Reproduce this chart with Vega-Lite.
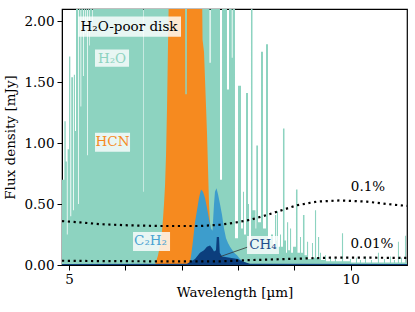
{
  "$schema": "https://vega.github.io/schema/vega-lite/v6.json",
  "width": 345,
  "height": 256,
  "autosize": {"type": "none"},
  "padding": {"left": 62, "top": 9, "right": 8, "bottom": 47},
  "background": "white",
  "config": {
    "view": {"stroke": "black", "strokeWidth": 1.2},
    "font": "DejaVu Serif",
    "axis": {
      "labelFont": "DejaVu Serif", "titleFont": "DejaVu Serif",
      "labelFontSize": 13.5, "titleFontSize": 13.5, "titleFontWeight": "normal",
      "labelColor": "black", "titleColor": "black", "tickColor": "black", "domainColor": "black",
      "grid": false, "tickSize": 5, "labelPadding": 3, "labelOverlap": false
    }
  },
  "datasets": {
    "h2o": [
      {"wl":4.875,"flux":0.70},{"wl":4.917,"flux":1.18},{"wl":4.941,"flux":0.85},{"wl":4.961,"flux":0.25},
      {"wl":4.975,"flux":0.95},{"wl":5.000,"flux":1.71},{"wl":5.023,"flux":0.40},{"wl":5.039,"flux":1.54},
      {"wl":5.071,"flux":0.45},{"wl":5.085,"flux":1.56},{"wl":5.106,"flux":1.10},{"wl":5.124,"flux":2.5},
      {"wl":5.160,"flux":0.50},{"wl":5.174,"flux":2.5},{"wl":5.204,"flux":1.30},{"wl":5.217,"flux":2.5},
      {"wl":5.248,"flux":1.55},{"wl":5.261,"flux":2.5},{"wl":5.289,"flux":1.90},{"wl":5.302,"flux":2.5},
      {"wl":5.319,"flux":0.90},{"wl":5.332,"flux":2.5},{"wl":5.355,"flux":1.80},{"wl":5.366,"flux":2.5},
      {"wl":5.408,"flux":2.00},{"wl":5.419,"flux":2.5},{"wl":6.313,"flux":0.60},{"wl":6.322,"flux":2.5},
      {"wl":7.494,"flux":1.66},{"wl":7.515,"flux":2.5},{"wl":7.680,"flux":0.70},{"wl":7.716,"flux":2.5},
      {"wl":7.804,"flux":1.44},{"wl":7.840,"flux":2.5},{"wl":7.889,"flux":1.70},{"wl":7.904,"flux":2.5},
      {"wl":7.946,"flux":0.22},{"wl":8.000,"flux":1.47},{"wl":8.053,"flux":0.30},{"wl":8.088,"flux":0.60},
      {"wl":8.106,"flux":0.25},{"wl":8.142,"flux":1.41},{"wl":8.177,"flux":0.50},{"wl":8.195,"flux":0.20},
      {"wl":8.230,"flux":2.5},{"wl":8.257,"flux":0.45},{"wl":8.310,"flux":0.30},{"wl":8.324,"flux":0.98},
      {"wl":8.355,"flux":0.35},{"wl":8.408,"flux":1.75},{"wl":8.443,"flux":0.30},{"wl":8.497,"flux":1.81},
      {"wl":8.532,"flux":0.20},{"wl":8.585,"flux":0.25},{"wl":8.621,"flux":0.15},{"wl":8.656,"flux":0.41},
      {"wl":8.678,"flux":0.20},{"wl":8.692,"flux":0.44},{"wl":8.710,"flux":0.15},{"wl":8.745,"flux":0.25},
      {"wl":8.763,"flux":0.15},{"wl":8.798,"flux":1.12},{"wl":8.825,"flux":0.20},{"wl":8.852,"flux":0.10},
      {"wl":8.870,"flux":0.35},{"wl":8.890,"flux":0.12},{"wl":8.923,"flux":0.30},{"wl":8.942,"flux":0.10},
      {"wl":8.976,"flux":0.15},{"wl":9.029,"flux":0.62},{"wl":9.056,"flux":0.10},{"wl":9.100,"flux":0.23},
      {"wl":9.118,"flux":0.10},{"wl":9.153,"flux":0.41},{"wl":9.180,"flux":0.08},{"wl":9.224,"flux":0.19},
      {"wl":9.244,"flux":0.05},{"wl":9.313,"flux":0.18},{"wl":9.331,"flux":0.06},{"wl":9.366,"flux":0.45},
      {"wl":9.386,"flux":0.06},{"wl":9.420,"flux":0.23},{"wl":9.440,"flux":0.05},{"wl":9.455,"flux":0.10},
      {"wl":9.473,"flux":0.04},{"wl":9.544,"flux":0.08},{"wl":9.562,"flux":0.03},
      {"wl":9.633,"flux":0.06},{"wl":9.650,"flux":0.03},{"wl":9.721,"flux":0.05},{"wl":9.739,"flux":0.03},
      {"wl":9.845,"flux":0.26},{"wl":9.865,"flux":0.03},
      {"wl":9.987,"flux":0.05},{"wl":10.005,"flux":0.02},{"wl":10.094,"flux":0.06},{"wl":10.112,"flux":0.02},
      {"wl":10.165,"flux":0.04},{"wl":10.183,"flux":0.02},{"wl":10.254,"flux":0.07},{"wl":10.271,"flux":0.02},
      {"wl":10.360,"flux":0.04},{"wl":10.378,"flux":0.02},{"wl":10.484,"flux":0.10},{"wl":10.502,"flux":0.02},
      {"wl":10.591,"flux":0.05},{"wl":10.609,"flux":0.02},{"wl":10.697,"flux":0.07},{"wl":10.715,"flux":0.02},
      {"wl":10.768,"flux":0.04},{"wl":10.786,"flux":0.02},{"wl":10.839,"flux":0.19},{"wl":10.857,"flux":0.02},
      {"wl":10.893,"flux":0.06},{"wl":10.910,"flux":0.02},{"wl":10.964,"flux":0.24},{"wl":10.981,"flux":0.02},
      {"wl":11.0,"flux":0.02}
    ],
    "hcn": [
      {"wl":6.526,"flux":0},{"wl":6.580,"flux":0.08},{"wl":6.615,"flux":0.16},{"wl":6.651,"flux":0.28},
      {"wl":6.668,"flux":0.38},{"wl":6.686,"flux":0.5},{"wl":6.704,"flux":0.65},{"wl":6.722,"flux":0.9},
      {"wl":6.740,"flux":1.3},{"wl":6.757,"flux":1.8},{"wl":6.775,"flux":2.3},{"wl":7.059,"flux":2.3},
      {"wl":7.064,"flux":1.4},{"wl":7.090,"flux":1.4},{"wl":7.095,"flux":2.3},{"wl":7.361,"flux":2.3},
      {"wl":7.370,"flux":1.85},{"wl":7.396,"flux":1.75},{"wl":7.432,"flux":1.3},{"wl":7.450,"flux":1.07},
      {"wl":7.467,"flux":0.8},{"wl":7.485,"flux":0.5},{"wl":7.520,"flux":0.2},{"wl":7.556,"flux":0}
    ],
    "c2h2": [
      {"wl":7.112,"flux":0},{"wl":7.148,"flux":0.02},{"wl":7.174,"flux":0.1},{"wl":7.201,"flux":0.2},
      {"wl":7.236,"flux":0.35},{"wl":7.272,"flux":0.45},{"wl":7.307,"flux":0.55},{"wl":7.343,"flux":0.62},
      {"wl":7.378,"flux":0.6},{"wl":7.414,"flux":0.55},{"wl":7.449,"flux":0.47},{"wl":7.485,"flux":0.38},
      {"wl":7.520,"flux":0.3},{"wl":7.547,"flux":0.28},{"wl":7.574,"flux":0.5},{"wl":7.591,"flux":0.6},
      {"wl":7.618,"flux":0.63},{"wl":7.645,"flux":0.58},{"wl":7.680,"flux":0.5},{"wl":7.716,"flux":0.41},
      {"wl":7.751,"flux":0.3},{"wl":7.787,"flux":0.22},{"wl":7.822,"flux":0.18},{"wl":7.858,"flux":0.15},
      {"wl":7.929,"flux":0.1},{"wl":7.982,"flux":0.08},{"wl":8.035,"flux":0.05},{"wl":8.124,"flux":0.02},
      {"wl":8.213,"flux":0}
    ],
    "ch4": [
      {"wl":4.875,"flux":0.008},{"wl":7.094,"flux":0.01},{"wl":7.236,"flux":0.05},{"wl":7.325,"flux":0.1},
      {"wl":7.396,"flux":0.12},{"wl":7.449,"flux":0.15},{"wl":7.503,"flux":0.16},{"wl":7.538,"flux":0.14},
      {"wl":7.574,"flux":0.11},{"wl":7.609,"flux":0.12},{"wl":7.623,"flux":0.23},{"wl":7.662,"flux":0.23},
      {"wl":7.676,"flux":0.1},{"wl":7.716,"flux":0.07},{"wl":7.858,"flux":0.06},{"wl":7.999,"flux":0.05},
      {"wl":8.070,"flux":0.03},{"wl":8.213,"flux":0.01},{"wl":11.0,"flux":0.008}
    ],
    "curves": [
      {"level":"0.1%","wl":4.875,"flux":0.36},{"level":"0.1%","wl":5.195,"flux":0.35},
      {"level":"0.1%","wl":5.550,"flux":0.335},{"level":"0.1%","wl":6.083,"flux":0.325},
      {"level":"0.1%","wl":6.615,"flux":0.32},{"level":"0.1%","wl":7.325,"flux":0.32},
      {"level":"0.1%","wl":7.680,"flux":0.33},{"level":"0.1%","wl":7.911,"flux":0.345},
      {"level":"0.1%","wl":8.213,"flux":0.37},{"level":"0.1%","wl":8.514,"flux":0.41},
      {"level":"0.1%","wl":8.745,"flux":0.445},{"level":"0.1%","wl":9.047,"flux":0.49},
      {"level":"0.1%","wl":9.402,"flux":0.52},{"level":"0.1%","wl":9.810,"flux":0.53},
      {"level":"0.1%","wl":10.289,"flux":0.52},{"level":"0.1%","wl":10.644,"flux":0.50},
      {"level":"0.1%","wl":11.0,"flux":0.485},
      {"level":"0.01%","wl":4.875,"flux":0.035},{"level":"0.01%","wl":5.550,"flux":0.032},
      {"level":"0.01%","wl":6.615,"flux":0.03},{"level":"0.01%","wl":7.680,"flux":0.03},
      {"level":"0.01%","wl":8.213,"flux":0.04},{"level":"0.01%","wl":8.923,"flux":0.05},
      {"level":"0.01%","wl":9.633,"flux":0.06},{"level":"0.01%","wl":10.342,"flux":0.06},
      {"level":"0.01%","wl":11.0,"flux":0.058}
    ],
    "pointer": [
      {"wl":7.680,"flux":0.068},{"wl":8.177,"flux":0.148}
    ],
    "boxes": [
      {"wl":5.160,"wl2":6.988,"flux":1.873,"flux2":2.038},
      {"wl":5.461,"wl2":6.065,"flux":1.627,"flux2":1.767},
      {"wl":5.461,"wl2":6.083,"flux":0.928,"flux2":1.085},
      {"wl":6.136,"wl2":6.793,"flux":0.115,"flux2":0.271},
      {"wl":8.159,"wl2":8.727,"flux":0.090,"flux2":0.238}
    ],
    "labels": [
      {"label":"H₂O-poor disk","wl":6.065,"flux":1.952},
      {"label":"H₂O","wl":5.763,"flux":1.693},
      {"label":"HCN","wl":5.772,"flux":1.011},
      {"label":"C₂H₂","wl":6.447,"flux":0.197},
      {"label":"CH₄","wl":8.443,"flux":0.164},
      {"label":"0.1%","wl":10.307,"flux":0.641},
      {"label":"0.01%","wl":10.378,"flux":0.173}
    ]
  },
  "layer": [
    {
      "data": {"name": "h2o"},
      "mark": {"type": "area", "interpolate": "step-after", "color": "#8dd3c0", "clip": true},
      "encoding": {
        "x": {"field": "wl", "type": "quantitative",
          "scale": {"domain": [4.875, 11], "nice": false, "zero": false},
          "axis": {"title": "Wavelength [µm]", "values": [5, 6, 7, 8, 9, 10], "format": "d",
            "labelExpr": "datum.value == 5 || datum.value == 10 ? datum.label : ''",
            "labelPadding": 2, "titlePadding": 0}},
        "y": {"field": "flux", "type": "quantitative",
          "scale": {"domain": [0, 2.1], "nice": false},
          "axis": {"title": "Flux density [mJy]", "values": [0, 0.25, 0.5, 0.75, 1, 1.25, 1.5, 1.75, 2],
            "format": ".2f", "titlePadding": 6}}
      }
    },
    {
      "data": {"name": "hcn"},
      "mark": {"type": "area", "color": "#f68a1f", "clip": true},
      "encoding": {"x": {"field": "wl", "type": "quantitative"}, "y": {"field": "flux", "type": "quantitative"}}
    },
    {
      "data": {"name": "c2h2"},
      "mark": {"type": "area", "color": "#3d9dcc", "clip": true},
      "encoding": {"x": {"field": "wl", "type": "quantitative"}, "y": {"field": "flux", "type": "quantitative"}}
    },
    {
      "data": {"name": "ch4"},
      "mark": {"type": "area", "color": "#0c3e7d", "clip": true},
      "encoding": {"x": {"field": "wl", "type": "quantitative"}, "y": {"field": "flux", "type": "quantitative"}}
    },
    {
      "data": {"name": "curves"},
      "mark": {"type": "line", "color": "black", "strokeWidth": 2.2, "strokeDash": [2.2, 3.6], "clip": true},
      "encoding": {"x": {"field": "wl", "type": "quantitative"}, "y": {"field": "flux", "type": "quantitative"},
        "detail": {"field": "level"}}
    },
    {
      "data": {"name": "pointer"},
      "mark": {"type": "line", "color": "#333333", "strokeWidth": 0.8},
      "encoding": {"x": {"field": "wl", "type": "quantitative"}, "y": {"field": "flux", "type": "quantitative"}}
    },
    {
      "data": {"name": "boxes"},
      "mark": {"type": "rect", "color": "white", "opacity": 0.8},
      "encoding": {"x": {"field": "wl", "type": "quantitative"}, "x2": {"field": "wl2"},
        "y": {"field": "flux", "type": "quantitative"}, "y2": {"field": "flux2"}}
    },
    {
      "data": {"name": "labels"},
      "mark": {"type": "text", "font": "DejaVu Serif", "fontSize": 13.5, "align": "center", "baseline": "middle"},
      "encoding": {
        "x": {"field": "wl", "type": "quantitative"},
        "y": {"field": "flux", "type": "quantitative"},
        "text": {"field": "label"},
        "color": {"field": "label", "type": "nominal", "legend": null,
          "scale": {"domain": ["H₂O-poor disk", "H₂O", "HCN", "C₂H₂", "CH₄", "0.1%", "0.01%"],
            "range": ["#000000", "#8dd3c0", "#f68a1f", "#4aa3d2", "#1f4e8c", "#000000", "#000000"]}}
      }
    }
  ]
}
